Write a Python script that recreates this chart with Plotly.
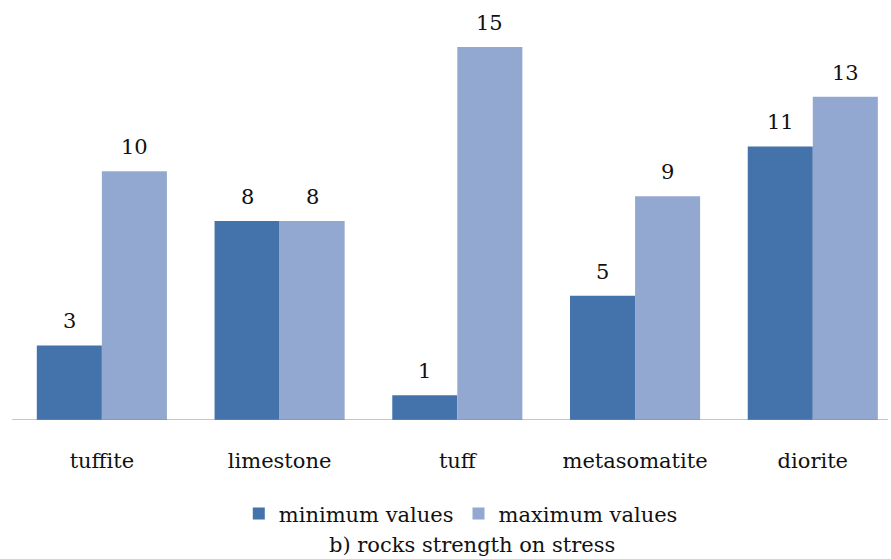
import plotly.graph_objects as go

# Rock strength on stress: minimum and maximum values per rock type
categories = ["tuffite", "limestone", "tuff", "metasomatite", "diorite"]
min_values = [3, 8, 1, 5, 11]
max_values = [10, 8, 15, 9, 13]
series_names = ["minimum values", "maximum values"]
chart_title = "b) rocks strength on stress"

DARK = "#4472AA"
LIGHT = "#93A8D0"
FONT = "DejaVu Serif"
FSIZE = 21
BAR_W = 0.366
OFF = BAR_W / 2

pos = list(range(len(categories)))

fig = go.Figure()
fig.add_trace(go.Bar(
    x=[p - OFF for p in pos], y=min_values, width=BAR_W,
    name=series_names[0], marker=dict(color=DARK, line=dict(width=0)),
))
fig.add_trace(go.Bar(
    x=[p + OFF for p in pos], y=max_values, width=BAR_W,
    name=series_names[1], marker=dict(color=LIGHT, line=dict(width=0)),
))

# value labels above each bar
annotations = []
for vals, sign in ((min_values, -1), (max_values, 1)):
    for p, v in zip(pos, vals):
        annotations.append(dict(
            x=p + sign * OFF, y=v, xref="x", yref="y", text=str(v),
            showarrow=False, yshift=24, yanchor="middle",
            font=dict(family=FONT, size=FSIZE, color="#111111"),
        ))

annotations.append(dict(
    x=0.523, y=-0.314, xref="paper", yref="paper", text=chart_title,
    showarrow=False, xanchor="center", yanchor="middle",
    font=dict(family=FONT, size=FSIZE, color="#111111"),
))

fig.update_layout(
    width=891, height=559,
    margin=dict(l=13, r=0, t=22, b=139),
    paper_bgcolor="white", plot_bgcolor="white",
    font=dict(family=FONT, size=FSIZE, color="#111111"),
    barmode="overlay",
    showlegend=True,
    legend=dict(
        orientation="h", x=0.51, xanchor="center", y=-0.236, yanchor="middle",
        font=dict(family=FONT, size=FSIZE, color="#111111"),
        itemwidth=30, tracegroupgap=0,
    ),
    annotations=annotations,
    shapes=[dict(
        type="line", xref="paper", yref="y", x0=-0.001, x1=0.9966, y0=0, y1=0,
        line=dict(color="#8C8C8C", width=1),
    )],
    xaxis=dict(
        range=[-0.5, 4.44], tickvals=pos, ticktext=categories,
        showgrid=False, zeroline=False, showline=False, ticks="",
        ticklabelstandoff=26,
        tickfont=dict(family=FONT, size=FSIZE, color="#111111"),
    ),
    yaxis=dict(
        range=[0, 16], showgrid=False, zeroline=False, showline=False,
        showticklabels=False, ticks="",
    ),
)

fig.write_html("out.html")
